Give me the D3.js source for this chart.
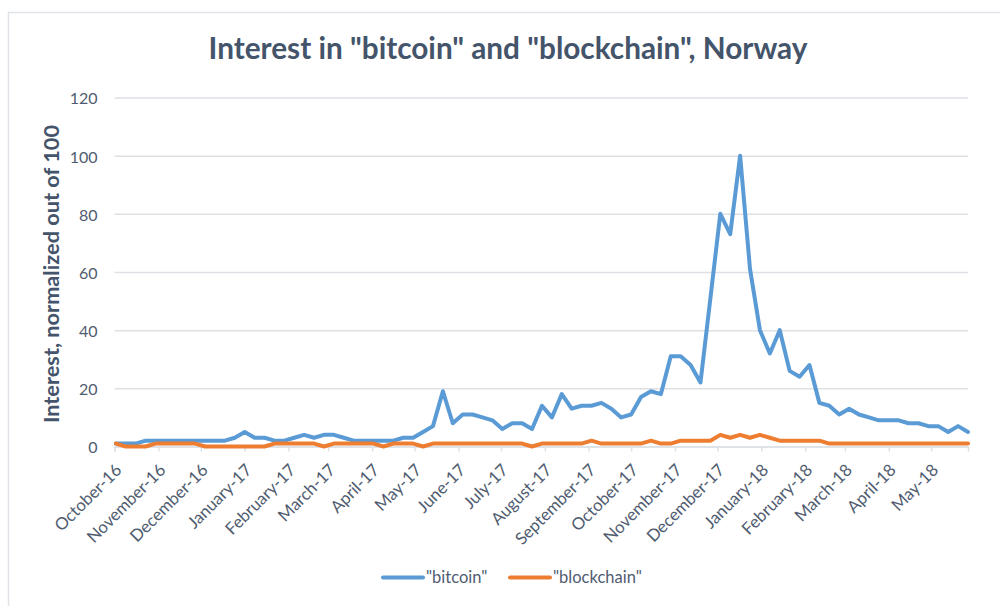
<!DOCTYPE html>
<html>
<head>
<meta charset="utf-8">
<script src="https://cdn.jsdelivr.net/npm/d3@7"></script>
<style>
  html, body { margin: 0; padding: 0; background: #fff; }
  svg { display: block; font-family: Lato, "Open Sans", sans-serif; }
</style>
</head>
<body>
<svg id="chart" width="1000" height="606"></svg>
<script>
const weeks = [
  "2016-10-02","2016-10-09","2016-10-16","2016-10-23","2016-10-30",
  "2016-11-06","2016-11-13","2016-11-20","2016-11-27",
  "2016-12-04","2016-12-11","2016-12-18","2016-12-25",
  "2017-01-01","2017-01-08","2017-01-15","2017-01-22","2017-01-29",
  "2017-02-05","2017-02-12","2017-02-19","2017-02-26",
  "2017-03-05","2017-03-12","2017-03-19","2017-03-26",
  "2017-04-02","2017-04-09","2017-04-16","2017-04-23","2017-04-30",
  "2017-05-07","2017-05-14","2017-05-21","2017-05-28",
  "2017-06-04","2017-06-11","2017-06-18","2017-06-25",
  "2017-07-02","2017-07-09","2017-07-16","2017-07-23","2017-07-30",
  "2017-08-06","2017-08-13","2017-08-20","2017-08-27",
  "2017-09-03","2017-09-10","2017-09-17","2017-09-24",
  "2017-10-01","2017-10-08","2017-10-15","2017-10-22","2017-10-29",
  "2017-11-05","2017-11-12","2017-11-19","2017-11-26",
  "2017-12-03","2017-12-10","2017-12-17","2017-12-24","2017-12-31",
  "2018-01-07","2018-01-14","2018-01-21","2018-01-28",
  "2018-02-04","2018-02-11","2018-02-18","2018-02-25",
  "2018-03-04","2018-03-11","2018-03-18","2018-03-25",
  "2018-04-01","2018-04-08","2018-04-15","2018-04-22","2018-04-29",
  "2018-05-06","2018-05-13","2018-05-20","2018-05-27"
];
const bitcoin = [
  1,1,1,2,2, 2,2,2,2, 2,2,2,3,
  5,3,3,2,2, 3,4,3,4, 4,3,2,2, 2,2,2,3,3, 5,7,19,8,
  11,11,10,9, 6,8,8,6,14, 10,18,13,14, 14,15,13,10,
  11,17,19,18,31, 31,28,22,51, 80,73,100,61,40,
  32,40,26,24, 28,15,14,11, 13,11,10,9, 9,9,8,8,7, 7,5,7,5
];
const blockchain = [
  1,0,0,0,1, 1,1,1,1, 0,0,0,0,
  0,0,0,1,1, 1,1,1,0, 1,1,1,1, 1,0,1,1,1, 0,1,1,1,
  1,1,1,1, 1,1,1,0,1, 1,1,1,1, 2,1,1,1,
  1,1,2,1,1, 2,2,2,2, 4,3,4,3,4,
  3,2,2,2, 2,2,1,1, 1,1,1,1, 1,1,1,1,1, 1,1,1,1
];
const monthTicks = [
  "2016-10-01","2016-11-01","2016-12-01","2017-01-01","2017-02-01","2017-03-01",
  "2017-04-01","2017-05-01","2017-06-01","2017-07-01","2017-08-01","2017-09-01",
  "2017-10-01","2017-11-01","2017-12-01","2018-01-01","2018-02-01","2018-03-01",
  "2018-04-01","2018-05-01"
];
const yTicks = [0, 20, 40, 60, 80, 100, 120];
const seriesNames = ['"bitcoin"', '"blockchain"'];
const seriesColors = ["#5b9bd5", "#ed7d31"];
const titleText = 'Interest in "bitcoin" and "blockchain", Norway';
const yTitleText = "Interest, normalized out of 100";

const parse = d3.utcParse("%Y-%m-%d");
const dates = weeks.map(parse);
const tickDates = monthTicks.map(parse);
const fmt = d3.utcFormat("%B-%y");

const svg = d3.select("#chart");
const textColor = "#44546a";
const labelColor = "#505c70";
const gridColor = "#dde1e6";

// chart frame
svg.append("rect").attr("x", 8.5).attr("y", 12.5).attr("width", 1200).attr("height", 1200)
  .attr("fill", "#fff").attr("stroke", "#dfe3e8").attr("stroke-width", 1.5);

const x = d3.scaleUtc().domain([parse("2016-10-01"), parse("2018-05-27")]).range([114.5, 968]);
const y = d3.scaleLinear().domain([0, 120]).range([446.5, 97.5]);

function fitWidth(sel, target) {
  const w = sel.node().getComputedTextLength();
  const fs = parseFloat(sel.attr("font-size"));
  sel.attr("font-size", (fs * target / w).toFixed(2));
}

// gridlines
const yAxis = d3.axisLeft(y).tickValues(yTicks).tickSize(-(968 - 114.5)).tickPadding(17);
const gy = svg.append("g").attr("transform", "translate(114.5,0)").call(yAxis);
gy.select(".domain").remove();
gy.selectAll(".tick line").attr("stroke", gridColor).attr("stroke-width", 1.5);
gy.selectAll(".tick text").attr("fill", labelColor).attr("font-size", 16)
  .attr("font-family", "Lato, sans-serif").attr("dy", "0.4em");

// x axis
const xAxis = d3.axisBottom(x).tickValues(tickDates).tickSize(5).tickFormat("");
const gx = svg.append("g").attr("transform", `translate(0,${y(0)})`).call(xAxis);
gx.select(".domain").attr("stroke", gridColor).attr("stroke-width", 1.5);
gx.selectAll(".tick line").attr("stroke", gridColor).attr("stroke-width", 1.5);

const xl = svg.append("g");
xl.selectAll("text").data(tickDates).join("text")
  .attr("transform", d => `translate(${x(d) + 4},${467}) rotate(-45)`)
  .attr("text-anchor", "end").attr("dy", "0.35em")
  .attr("font-size", 16.8).attr("fill", labelColor)
  .text(d => fmt(d));

// lines
const series = [bitcoin, blockchain];
const line = d3.line().x((d, i) => x(dates[i])).y(d => y(d)).curve(d3.curveLinear);
series.forEach((vals, k) => {
  svg.append("path").datum(vals).attr("d", line)
    .attr("fill", "none").attr("stroke", seriesColors[k]).attr("stroke-width", 4)
    .attr("stroke-linejoin", "round").attr("stroke-linecap", "round");
});

// title
const t = svg.append("text").attr("x", 508).attr("y", 59).attr("text-anchor", "middle")
  .attr("font-size", 27).attr("font-weight", "bold").attr("fill", textColor).text(titleText);
fitWidth(t, 599);

// y title
const yt = svg.append("text").attr("transform", "translate(59,274) rotate(-90)")
  .attr("text-anchor", "middle").attr("font-size", 19).attr("font-weight", "bold")
  .attr("fill", textColor).text(yTitleText);
fitWidth(yt, 298);

// legend
const lg = svg.append("g");
const ly = 577.5;
const starts = [383, 510];
seriesNames.forEach((n, k) => {
  lg.append("line").attr("x1", starts[k]).attr("x2", starts[k] + 40).attr("y1", ly).attr("y2", ly)
    .attr("stroke", seriesColors[k]).attr("stroke-width", 4).attr("stroke-linecap", "round");
  lg.append("text").attr("x", starts[k] + 43).attr("y", ly).attr("dy", "0.36em")
    .attr("font-size", 16.5).attr("fill", labelColor).text(n);
});
</script>
</body>
</html>
